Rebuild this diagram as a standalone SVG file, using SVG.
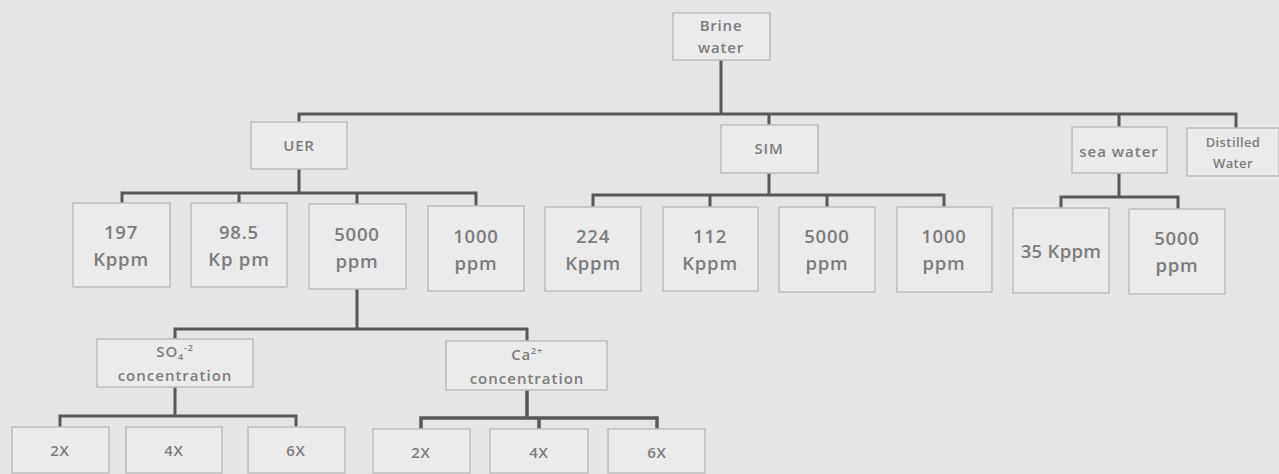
<svg xmlns="http://www.w3.org/2000/svg" width="1279" height="474" viewBox="0 0 1279 474">
<style>
.bg{fill:#e5e5e5}
.box{fill:#ebebeb;stroke:#bdbdbd;stroke-width:1.5}
.t{font-family:"Open Sans","Liberation Sans",sans-serif;font-weight:600;fill:#7c7c7c;text-anchor:middle;font-size:18.5px;letter-spacing:0.8px}
.s{font-size:15px}
.xs{font-size:13px;letter-spacing:0.4px}
.c{stroke:#585858;stroke-width:3;fill:none;stroke-linejoin:miter}
</style>
<rect class="bg" x="0" y="0" width="1279" height="474"/>
<g id="connectors">
<path class="c" d="M721 60V114M299 122V114H1236V128M769 114V125M1119 114V127"/>
<path class="c" d="M299 169V193M122 204V193H476V206M239 193V204M357 193V204"/>
<path class="c" d="M769 173V195M593 207V195H944V207M710 195V207M827 195V207"/>
<path class="c" d="M1119 173V197M1061 208V197H1178V209"/>
<path class="c" d="M357 289V329M175 339V329H527V341"/>
<path class="c" d="M175 387V416M60 427V416H296V427"/>
<path class="c" d="M527 390V418M421 429V418H657V429M539 418V429" style="stroke-width:3.5"/>
</g>
<g id="brine"><rect class="box" x="673" y="13" width="97" height="47"/><text class="t s" x="721" y="31">Brine</text><text class="t s" x="721" y="53">water</text></g>
<g id="uer"><rect class="box" x="251" y="122" width="96" height="47"/><text class="t s" x="299" y="151">UER</text></g>
<g id="sim"><rect class="box" x="721" y="125" width="97" height="48"/><text class="t s" x="769" y="154">SIM</text></g>
<g id="sea"><rect class="box" x="1072" y="127" width="95" height="46"/><text class="t s" x="1119" y="157" style="letter-spacing:1px">sea water</text></g>
<g id="distilled"><rect class="box" x="1187" y="128" width="92" height="48"/><text class="t xs" x="1233" y="147">Distilled</text><text class="t xs" x="1233" y="168">Water</text></g>
<g id="u197"><rect class="box" x="73" y="203" width="97" height="84"/><text class="t" x="121" y="239">197</text><text class="t" x="121" y="266">Kppm</text></g>
<g id="u985"><rect class="box" x="191" y="203" width="96" height="84"/><text class="t" x="239" y="239">98.5</text><text class="t" x="239" y="266">Kp pm</text></g>
<g id="u5000"><rect class="box" x="309" y="204" width="97" height="85"/><text class="t" x="357" y="241">5000</text><text class="t" x="357" y="268">ppm</text></g>
<g id="u1000"><rect class="box" x="428" y="206" width="96" height="85"/><text class="t" x="476" y="243">1000</text><text class="t" x="476" y="270">ppm</text></g>
<g id="s224"><rect class="box" x="545" y="207" width="96" height="84"/><text class="t" x="593" y="243">224</text><text class="t" x="593" y="270">Kppm</text></g>
<g id="s112"><rect class="box" x="663" y="207" width="95" height="84"/><text class="t" x="710" y="243">112</text><text class="t" x="710" y="270">Kppm</text></g>
<g id="s5000"><rect class="box" x="779" y="207" width="96" height="85"/><text class="t" x="827" y="243">5000</text><text class="t" x="827" y="270">ppm</text></g>
<g id="s1000"><rect class="box" x="897" y="207" width="95" height="85"/><text class="t" x="944" y="243">1000</text><text class="t" x="944" y="270">ppm</text></g>
<g id="w35"><rect class="box" x="1013" y="208" width="96" height="85"/><text class="t" x="1061" y="258" style="letter-spacing:0.3px">35 Kppm</text></g>
<g id="w5000"><rect class="box" x="1129" y="209" width="96" height="85"/><text class="t" x="1177" y="245">5000</text><text class="t" x="1177" y="272">ppm</text></g>
<g id="so4"><rect class="box" x="97" y="339" width="156" height="48"/><text class="t s" x="175" y="357">SO<tspan font-size="9" dy="3">4</tspan><tspan font-size="9" dy="-9">-2</tspan></text><text class="t s" x="175" y="381" style="letter-spacing:1px">concentration</text></g>
<g id="ca"><rect class="box" x="446" y="341" width="161" height="49"/><text class="t s" x="527" y="360">Ca<tspan font-size="9" dy="-6">2+</tspan></text><text class="t s" x="527" y="384" style="letter-spacing:1px">concentration</text></g>
<g id="so2x"><rect class="box" x="12" y="427" width="97" height="46"/><text class="t s" x="60" y="456">2X</text></g>
<g id="so4x"><rect class="box" x="126" y="427" width="96" height="46"/><text class="t s" x="174" y="456">4X</text></g>
<g id="so6x"><rect class="box" x="248" y="427" width="97" height="46"/><text class="t s" x="296" y="456">6X</text></g>
<g id="ca2x"><rect class="box" x="373" y="429" width="97" height="44"/><text class="t s" x="421" y="458">2X</text></g>
<g id="ca4x"><rect class="box" x="490" y="429" width="98" height="44"/><text class="t s" x="539" y="458">4X</text></g>
<g id="ca6x"><rect class="box" x="608" y="429" width="97" height="44"/><text class="t s" x="657" y="458">6X</text></g>
</svg>
